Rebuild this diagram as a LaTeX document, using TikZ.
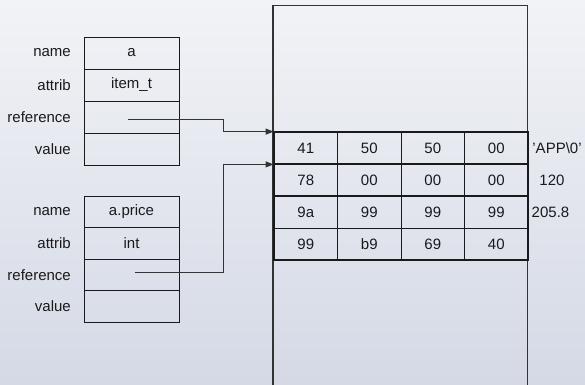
\documentclass[tikz,border=0pt]{standalone}
\usepackage{fontspec}
\setmainfont{Liberation Sans}
\usetikzlibrary{arrows.meta}
\definecolor{bgtop}{HTML}{F2F3F7}
\definecolor{bgbot}{HTML}{D4D9E5}
\definecolor{ink}{HTML}{1A1A1A}
\definecolor{wire}{HTML}{333333}
\tikzset{
  txt/.style={font=\fontsize{15}{17}\selectfont, text=ink},
  field/.style={txt, draw=ink, line width=0.9pt, minimum width=95pt, minimum height=32pt,
    inner sep=0pt},
  fieldlabel/.style={txt, anchor=east, inner sep=0pt},
  byte/.style={txt, draw=ink, line width=0.8pt, minimum width=63.5pt, minimum height=32pt,
    inner sep=0pt},
  vallabel/.style={txt, inner sep=0pt},
  thickrule/.style={draw=ink, line width=2pt},
  pointer/.style={draw=wire, line width=1pt, -{Triangle[length=8pt,width=6pt]}},
}
\begin{document}
\begin{tikzpicture}[x=1pt, y=-1pt]
  % background
  \shade[top color=bgtop, bottom color=bgbot] (0,0) rectangle (585,384);
  \useasboundingbox (0,0) rectangle (585,384);

  % memory region (open at the bottom)
  \draw[draw=wire, line width=1.5pt] (273,390) -- (273,5.5) -- (527.5,5.5) -- (527.5,390);

  % first variable descriptor
  \node[field] (n1) at (131.5,53) {a};
  \node[field] (a1) at (131.5,85) {item\_t};
  \node[field] (r1) at (131.5,117) {};
  \node[field] (v1) at (131.5,149) {};
  \node[fieldlabel] (ln1) at (71,53) {name};
  \node[fieldlabel] (la1) at (71,85) {attrib};
  \node[fieldlabel] (lr1) at (71,117) {reference};
  \node[fieldlabel] (lv1) at (71,149) {value};

  % second variable descriptor
  \node[field, minimum height=31.5pt] (n2) at (131.5,211.75) {a.price};
  \node[field, minimum height=31.5pt] (a2) at (131.5,243.25) {int};
  \node[field, minimum height=31.5pt] (r2) at (131.5,274.75) {};
  \node[field, minimum height=31.5pt] (v2) at (131.5,306.25) {};
  \node[fieldlabel] (ln2) at (71,212) {name};
  \node[fieldlabel] (la2) at (71,243.5) {attrib};
  \node[fieldlabel] (lr2) at (71,275) {reference};
  \node[fieldlabel] (lv2) at (71,306.5) {value};

  % memory bytes
  \foreach \row/\y/\a/\b/\c/\d in {0/148/41/50/50/00, 1/180/78/00/00/00, 2/212/9a/99/99/99, 3/244/99/b9/69/40}{
    \node[byte] (m\row-0) at (305.75,\y) {\a};
    \node[byte] (m\row-1) at (369.25,\y) {\b};
    \node[byte] (m\row-2) at (432.75,\y) {\c};
    \node[byte] (m\row-3) at (496.25,\y) {\d};
  }
  % grouping of the bytes into values
  \draw[thickrule] (m0-0.north west) rectangle (m3-3.south east);
  \draw[thickrule] (m0-0.south west) -- (m0-3.south east);
  \draw[thickrule] (m1-0.south west) -- (m1-3.south east);

  % decoded values
  \node[vallabel] (val0) at (557,148) {'APP\textbackslash0'};
  \node[vallabel] (val1) at (552,180) {120};
  \node[vallabel] (val2) at (550.5,212) {205.8};

  % reference pointers
  \coordinate (p1) at (128,119);
  \coordinate (p2) at (135,272);
  \coordinate (k1) at (223,119);
  \coordinate (k2) at (223,272);
  \draw[pointer] (p1) -- (k1) |- (m0-0.north west);
  \draw[pointer] (p2) -- (k2) |- (m0-0.south west);
\end{tikzpicture}
\end{document}
